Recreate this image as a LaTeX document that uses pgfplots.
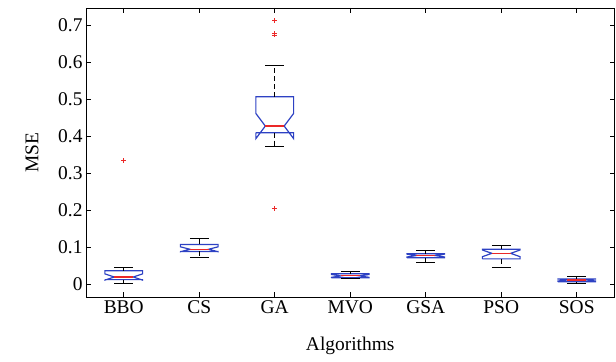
\documentclass[border=0pt]{standalone}
\usepackage{pgfplots}
\pgfplotsset{compat=1.18}
\usepackage{fontspec}
\setmainfont{Liberation Serif}
\definecolor{mblue}{RGB}{45,65,195}
\definecolor{mred}{RGB}{235,40,40}
\begin{document}
\begin{tikzpicture}
\begin{axis}[
  scale only axis,
  width=528.5bp, height=289bp,
  xmin=0.5, xmax=7.5,
  ymin=-0.035, ymax=0.746,
  xtick={1,2,3,4,5,6,7},
  xticklabels={BBO,CS,GA,MVO,GSA,PSO,SOS},
  ytick={0,0.1,0.2,0.3,0.4,0.5,0.6,0.7},
  yticklabels={0,0.1,0.2,0.3,0.4,0.5,0.6,0.7},
  tick align=inside,
  major tick length=5bp,
  axis line style={line width=0.8pt},
  tick style={black, line width=0.6pt},
  ticklabel style={font=\fontsize{19.5}{21}\selectfont},
  label style={font=\fontsize{19.5}{21}\selectfont},
  xlabel={Algorithms},
  ylabel={MSE},
  xlabel style={at={(axis description cs:0.5,-0.17)}, anchor=center},
  ylabel style={at={(axis description cs:-0.102,0.5)}, anchor=center},
  unbounded coords=jump,
]
% notched boxes: q1, notch low, median, notch high, q3
\addplot[mblue, line width=1.2pt] table {
x y
0.75 0.012
0.75 0.0106
0.875 0.019
0.75 0.0274
0.75 0.036
1.25 0.036
1.25 0.0274
1.125 0.019
1.25 0.0106
1.25 0.012
0.75 0.012
nan nan
1.75 0.088
1.75 0.0873
1.875 0.094
1.75 0.1007
1.75 0.107
2.25 0.107
2.25 0.1007
2.125 0.094
2.25 0.0873
2.25 0.088
1.75 0.088
nan nan
2.75 0.409
2.75 0.393
2.875 0.427
2.75 0.461
2.75 0.506
3.25 0.506
3.25 0.461
3.125 0.427
3.25 0.393
3.25 0.409
2.75 0.409
nan nan
3.75 0.017
3.75 0.0181
3.875 0.022
3.75 0.0259
3.75 0.028
4.25 0.028
4.25 0.0259
4.125 0.022
4.25 0.0181
4.25 0.017
3.75 0.017
nan nan
4.75 0.071
4.75 0.0731
4.875 0.077
4.75 0.0809
4.75 0.082
5.25 0.082
5.25 0.0809
5.125 0.077
5.25 0.0731
5.25 0.071
4.75 0.071
nan nan
5.75 0.068
5.75 0.0739
5.875 0.083
5.75 0.0921
5.75 0.094
6.25 0.094
6.25 0.0921
6.125 0.083
6.25 0.0739
6.25 0.068
5.75 0.068
nan nan
6.75 0.006
6.75 0.0082
6.875 0.011
6.75 0.0138
6.75 0.014
7.25 0.014
7.25 0.0138
7.125 0.011
7.25 0.0082
7.25 0.006
6.75 0.006
};
% dashed whiskers
\addplot[black, line width=0.9pt, dash pattern=on 5bp off 3bp] table {
x y
1 0.036
1 0.044
nan nan
1 0.012
1 0.001
nan nan
2 0.107
2 0.122
nan nan
2 0.088
2 0.073
nan nan
3 0.506
3 0.590
nan nan
3 0.409
3 0.371
nan nan
4 0.028
4 0.034
nan nan
4 0.017
4 0.014
nan nan
5 0.082
5 0.090
nan nan
5 0.071
5 0.059
nan nan
6 0.094
6 0.103
nan nan
6 0.068
6 0.046
nan nan
7 0.014
7 0.021
nan nan
7 0.006
7 0.002
};
% whisker caps
\addplot[black, line width=0.9pt] table {
x y
0.875 0.044
1.125 0.044
nan nan
0.875 0.001
1.125 0.001
nan nan
1.875 0.122
2.125 0.122
nan nan
1.875 0.073
2.125 0.073
nan nan
2.875 0.590
3.125 0.590
nan nan
2.875 0.371
3.125 0.371
nan nan
3.875 0.034
4.125 0.034
nan nan
3.875 0.014
4.125 0.014
nan nan
4.875 0.090
5.125 0.090
nan nan
4.875 0.059
5.125 0.059
nan nan
5.875 0.103
6.125 0.103
nan nan
5.875 0.046
6.125 0.046
nan nan
6.875 0.021
7.125 0.021
nan nan
6.875 0.002
7.125 0.002
};
% medians
\addplot[mred, line width=1.1pt] table {
x y
0.875 0.019
1.125 0.019
nan nan
1.875 0.094
2.125 0.094
nan nan
2.875 0.427
3.125 0.427
nan nan
3.875 0.022
4.125 0.022
nan nan
4.875 0.077
5.125 0.077
nan nan
5.875 0.083
6.125 0.083
nan nan
6.875 0.011
7.125 0.011
};
% outliers
\addplot[only marks, mark=+, mark size=2.5pt, mred, line width=0.9pt] table {
x y
1 0.333
3 0.711
3 0.677
3 0.673
3 0.204
};
\end{axis}
\path ([xshift=-86bp,yshift=-65bp]current axis.south west) rectangle ([xshift=1.5bp,yshift=8bp]current axis.north east);
\end{tikzpicture}
\end{document}
